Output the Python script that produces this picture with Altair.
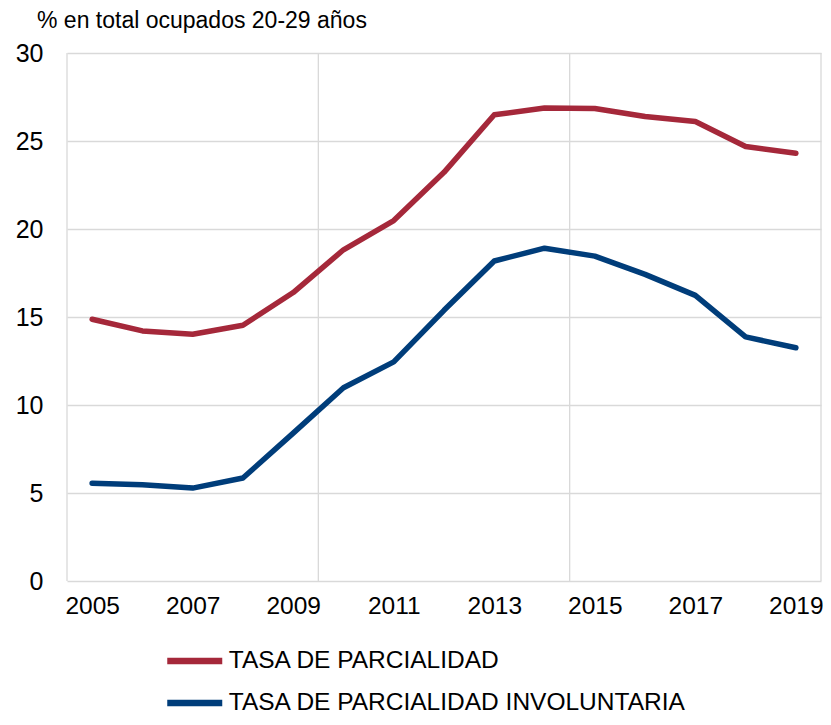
import altair as alt
import pandas as pd

# ---- data ----
years = list(range(2005, 2020))
parcialidad = [14.87, 14.21, 14.02, 14.53, 16.39, 18.82, 20.48, 23.22, 26.49,
               26.87, 26.85, 26.39, 26.11, 24.69, 24.30]
involuntaria = [5.56, 5.47, 5.28, 5.85, 8.40, 10.98, 12.45, 15.38, 18.18,
                18.91, 18.46, 17.42, 16.23, 13.87, 13.25]
series_names = ["TASA DE PARCIALIDAD", "TASA DE PARCIALIDAD INVOLUNTARIA"]
series_colors = ["#A5283A", "#003D7A"]
x_tick_labels = [2005, 2007, 2009, 2011, 2013, 2015, 2017, 2019]
y_tick_values = [0, 5, 10, 15, 20, 25, 30]
category_bounds = [2004.5, 2009.5, 2014.5, 2019.5]
title_text = "% en total ocupados 20-29 años"

FONT = "Liberation Sans"

df = pd.DataFrame({
    "year": years + years,
    "value": parcialidad + involuntaria,
    "serie": [series_names[0]] * len(years) + [series_names[1]] * len(years),
})
bounds_df = pd.DataFrame({"year": category_bounds})

x_enc = alt.X(
    "year:Q",
    scale=alt.Scale(domain=[2004.5, 2019.5], nice=False, zero=False),
    axis=alt.Axis(values=x_tick_labels, format="d", grid=False, ticks=False,
                  domain=False, labelFontSize=24.5, labelPadding=13,
                  labelColor="black", labelFont=FONT, title=None),
)

rules = alt.Chart(bounds_df).mark_rule(color="#d9d9d9", strokeWidth=1.3).encode(x=x_enc)

lines = alt.Chart(df).mark_line(strokeWidth=5.5, strokeCap="round", strokeJoin="round").encode(
    x=x_enc,
    y=alt.Y("value:Q",
            scale=alt.Scale(domain=[0, 30], nice=False),
            axis=alt.Axis(values=y_tick_values, grid=True, gridColor="#d9d9d9",
                          gridWidth=1.3, ticks=False, domain=False,
                          labelFontSize=25, labelPadding=24, labelColor="black",
                          labelFont=FONT, title=None)),
    color=alt.Color("serie:N",
                    scale=alt.Scale(domain=series_names, range=series_colors),
                    legend=alt.Legend(orient="none", legendX=96.75, legendY=587,
                                      direction="vertical", title=None,
                                      symbolType="stroke", symbolSize=3025,
                                      symbolStrokeWidth=6.5, labelFontSize=24.5,
                                      labelOffset=3, clipHeight=42,
                                      rowPadding=0, padding=0, labelLimit=700,
                                      labelFont=FONT, labelColor="black")),
    detail="serie:N",
)

chart = alt.layer(rules, lines).properties(
    width=754,
    height=528,
    title=alt.TitleParams(title_text, anchor="start", dx=-30, fontSize=23,
                          fontWeight="normal", font=FONT, color="black",
                          offset=8, frame="group"),
    autosize=alt.AutoSizeParams(type="none"),
    padding={"left": 59, "top": 45, "right": 2, "bottom": 136},
).configure_view(stroke=None)

chart.save("out.html", embed_options={"renderer": "svg", "actions": False})
